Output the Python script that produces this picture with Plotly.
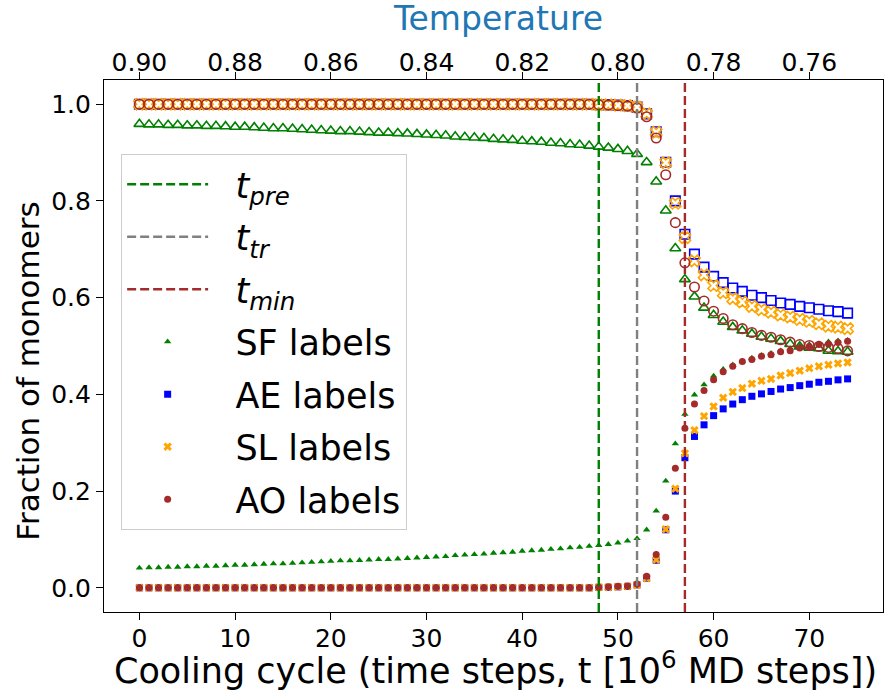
import plotly.graph_objects as go

# ---------------- data ----------------
t = list(range(75))

sf_filled = [0.041, 0.042, 0.042, 0.043, 0.043, 0.044, 0.044, 0.045, 0.045, 0.046,
             0.047, 0.047, 0.048, 0.049, 0.050, 0.050, 0.051, 0.052, 0.053, 0.054,
             0.055, 0.056, 0.056, 0.057, 0.058, 0.059, 0.059, 0.060, 0.061, 0.062,
             0.063, 0.064, 0.065, 0.067, 0.068, 0.069, 0.070, 0.072, 0.073, 0.074,
             0.076, 0.077, 0.078, 0.080, 0.081, 0.083, 0.084, 0.086, 0.088, 0.090,
             0.093, 0.097, 0.102, 0.120, 0.159, 0.221, 0.298, 0.359, 0.399, 0.420,
             0.438, 0.452, 0.461, 0.468, 0.475, 0.481, 0.485, 0.490, 0.495, 0.500,
             0.503, 0.505, 0.509, 0.511, 0.512]
sf_hollow = [0.959, 0.958, 0.958, 0.957, 0.957, 0.956, 0.956, 0.955, 0.955, 0.954,
             0.953, 0.953, 0.952, 0.951, 0.950, 0.950, 0.949, 0.948, 0.947, 0.946,
             0.945, 0.944, 0.944, 0.943, 0.942, 0.941, 0.941, 0.940, 0.939, 0.938,
             0.937, 0.936, 0.935, 0.933, 0.932, 0.931, 0.930, 0.928, 0.927, 0.926,
             0.924, 0.923, 0.922, 0.920, 0.919, 0.917, 0.916, 0.914, 0.912, 0.910,
             0.907, 0.903, 0.897, 0.880, 0.840, 0.780, 0.702, 0.638, 0.602, 0.579,
             0.564, 0.550, 0.539, 0.532, 0.525, 0.519, 0.515, 0.510, 0.504, 0.499,
             0.496, 0.495, 0.490, 0.489, 0.488]

ae_filled = [0.0, 0.0, 0.0, 0.0, 0.0, 0.0, 0.0, 0.0, 0.0, 0.0,
             0.0, 0.0, 0.0, 0.0, 0.0, 0.0, 0.0, 0.0, 0.0, 0.0,
             0.0, 0.0, 0.0, 0.0, 0.0, 0.0, 0.0, 0.0, 0.0, 0.0,
             0.0, 0.0, 0.0, 0.0, 0.0, 0.0, 0.0, 0.0, 0.0, 0.0,
             0.0, 0.0, 0.0, 0.0, 0.0, 0.0, 0.0, 0.0, 0.001, 0.001,
             0.002, 0.003, 0.006, 0.020, 0.057, 0.120, 0.200, 0.269, 0.313, 0.337,
             0.356, 0.370, 0.380, 0.389, 0.396, 0.401, 0.406, 0.411, 0.414, 0.418,
             0.421, 0.425, 0.427, 0.430, 0.432]
ae_hollow = [1.0, 1.0, 1.0, 1.0, 1.0, 1.0, 1.0, 1.0, 1.0, 1.0,
             1.0, 1.0, 1.0, 1.0, 1.0, 1.0, 1.0, 1.0, 1.0, 1.0,
             1.0, 1.0, 1.0, 1.0, 1.0, 1.0, 1.0, 1.0, 1.0, 1.0,
             1.0, 1.0, 1.0, 1.0, 1.0, 1.0, 1.0, 1.0, 1.0, 1.0,
             1.0, 1.0, 1.0, 1.0, 1.0, 1.0, 1.0, 1.0, 0.999, 0.999,
             0.998, 0.997, 0.994, 0.980, 0.943, 0.880, 0.800, 0.731, 0.690, 0.663,
             0.644, 0.631, 0.620, 0.613, 0.605, 0.600, 0.594, 0.589, 0.586, 0.582,
             0.579, 0.576, 0.573, 0.571, 0.568]

sl_filled = [0.0, 0.0, 0.0, 0.0, 0.0, 0.0, 0.0, 0.0, 0.0, 0.0,
             0.0, 0.0, 0.0, 0.0, 0.0, 0.0, 0.0, 0.0, 0.0, 0.0,
             0.0, 0.0, 0.0, 0.0, 0.0, 0.0, 0.0, 0.0, 0.0, 0.0,
             0.0, 0.0, 0.0, 0.0, 0.0, 0.0, 0.0, 0.0, 0.0, 0.0,
             0.0, 0.0, 0.0, 0.0, 0.0, 0.0, 0.0, 0.0, 0.001, 0.001,
             0.002, 0.003, 0.006, 0.020, 0.058, 0.121, 0.205, 0.278, 0.326, 0.355,
             0.375, 0.393, 0.405, 0.413, 0.422, 0.428, 0.432, 0.439, 0.444, 0.449,
             0.454, 0.458, 0.461, 0.464, 0.466]
sl_hollow = [1.0, 1.0, 1.0, 1.0, 1.0, 1.0, 1.0, 1.0, 1.0, 1.0,
             1.0, 1.0, 1.0, 1.0, 1.0, 1.0, 1.0, 1.0, 1.0, 1.0,
             1.0, 1.0, 1.0, 1.0, 1.0, 1.0, 1.0, 1.0, 1.0, 1.0,
             1.0, 1.0, 1.0, 1.0, 1.0, 1.0, 1.0, 1.0, 1.0, 1.0,
             1.0, 1.0, 1.0, 1.0, 1.0, 1.0, 1.0, 1.0, 0.999, 0.999,
             0.998, 0.997, 0.994, 0.980, 0.942, 0.879, 0.795, 0.724, 0.676, 0.647,
             0.625, 0.610, 0.598, 0.591, 0.582, 0.575, 0.570, 0.564, 0.560, 0.555,
             0.551, 0.546, 0.541, 0.539, 0.536]

ao_filled = [0.0, 0.0, 0.0, 0.0, 0.0, 0.0, 0.0, 0.0, 0.0, 0.0,
             0.0, 0.0, 0.0, 0.0, 0.0, 0.0, 0.0, 0.0, 0.0, 0.0,
             0.0, 0.0, 0.0, 0.0, 0.0, 0.0, 0.0, 0.0, 0.0, 0.0,
             0.0, 0.0, 0.0, 0.0, 0.0, 0.0, 0.0, 0.0, 0.0, 0.0,
             0.0, 0.0, 0.0, 0.0, 0.0, 0.0, 0.0, 0.0, 0.001, 0.002,
             0.003, 0.004, 0.008, 0.024, 0.069, 0.146, 0.247, 0.330, 0.380, 0.408,
             0.430, 0.447, 0.458, 0.468, 0.472, 0.479, 0.482, 0.488, 0.490, 0.496,
             0.499, 0.503, 0.504, 0.507, 0.510]
ao_hollow = [1.0, 1.0, 1.0, 1.0, 1.0, 1.0, 1.0, 1.0, 1.0, 1.0,
             1.0, 1.0, 1.0, 1.0, 1.0, 1.0, 1.0, 1.0, 1.0, 1.0,
             1.0, 1.0, 1.0, 1.0, 1.0, 1.0, 1.0, 1.0, 1.0, 1.0,
             1.0, 1.0, 1.0, 1.0, 1.0, 1.0, 1.0, 1.0, 1.0, 1.0,
             1.0, 1.0, 1.0, 1.0, 1.0, 1.0, 1.0, 1.0, 0.999, 0.998,
             0.997, 0.996, 0.992, 0.974, 0.930, 0.854, 0.755, 0.672, 0.622, 0.593,
             0.572, 0.557, 0.544, 0.536, 0.528, 0.522, 0.518, 0.513, 0.508, 0.503,
             0.501, 0.499, 0.497, 0.495, 0.490]

t_pre, t_tr, t_min = 48, 52, 57

x_ticks = [0, 10, 20, 30, 40, 50, 60, 70]
temp_ticks = ["0.90", "0.88", "0.86", "0.84", "0.82", "0.80", "0.78", "0.76"]
y_ticks = [0.0, 0.2, 0.4, 0.6, 0.8, 1.0]

# ---------------- figure ----------------
FONT = "DejaVu Sans"
PAD = "&nbsp;&nbsp;"
fig = go.Figure()

vlines = [(t_pre, "green", "<i>t</i><sub><i>pre</i></sub>"),
          (t_tr, "gray", "<i>t</i><sub><i>tr</i></sub>"),
          (t_min, "brown", "<i>t</i><sub><i>min</i></sub>")]
for i, (xv, col, name) in enumerate(vlines):
    fig.add_shape(type="line", x0=xv, x1=xv, y0=0, y1=1, xref="x", yref="paper",
                  line=dict(color=col, width=2.4, dash="9px,4px"), layer="above")
    fig.add_trace(go.Scatter(x=[None], y=[None], mode="lines", name=PAD + name,
                             legendgroup=f"g{i}",
                             line=dict(color=col, width=2.4, dash="9px,4px")))

series = [
    ("SF labels", sf_filled, sf_hollow, "green", "triangle-up", 6.5, 9.5),
    ("AE labels", ae_filled, ae_hollow, "blue", "square", 7, 9.5),
    ("SL labels", sl_filled, sl_hollow, "orange", "x", 7.5, 10),
    ("AO labels", ao_filled, ao_hollow, "brown", "circle", 7, 9.5),
]
for j, (name, yf, yh, col, sym, sf, sh) in enumerate(series):
    fig.add_trace(go.Scatter(x=t, y=yf, mode="markers", name=PAD + name,
                             legendgroup=f"s{j}",
                             marker=dict(color=col, symbol=sym, size=sf, line=dict(width=0))))
    fig.add_trace(go.Scatter(x=t, y=yh, mode="markers", name=name + " (rest)",
                             showlegend=False,
                             marker=dict(color=col, symbol=sym + "-open", size=sh,
                                         line=dict(width=1.6, color=col))))

fig.add_trace(go.Scatter(x=[x_ticks[0], x_ticks[-1]], y=[None, None], xaxis="x2",
                         mode="markers", showlegend=False, hoverinfo="skip"))

xr = [-3.7, 77.7]
axis_common = dict(ticks="outside", ticklen=7, tickwidth=1.2, tickcolor="black",
                   showline=True, linecolor="black", linewidth=1.2, showgrid=False,
                   zeroline=False, tickfont=dict(size=25), automargin=False)
fig.update_layout(
    width=885, height=693,
    margin=dict(l=104, r=2, t=80, b=81),
    paper_bgcolor="white", plot_bgcolor="white",
    font=dict(family=FONT, size=25, color="black"),
    showlegend=True,
    legend=dict(x=0.022, y=0.861, xanchor="left", yanchor="top",
                bgcolor="rgba(255,255,255,0.8)", bordercolor="#cccccc", borderwidth=1,
                font=dict(size=35, family=FONT), itemwidth=81,
                tracegroupgap=4, traceorder="grouped"),
    xaxis=dict(range=xr, tickvals=x_ticks, ticklabelstandoff=-3, **axis_common),
    xaxis2=dict(range=xr, overlaying="x", side="top", tickvals=x_ticks, ticktext=temp_ticks,
                ticklabelstandoff=-9, **axis_common),
    yaxis=dict(range=[-0.05, 1.05], tickvals=y_ticks, tickformat=".1f", mirror=True,
               **axis_common),
    annotations=[
        dict(text="Cooling cycle (time steps, t [10<sup>6</sup> MD steps])",
             xref="paper", yref="paper", x=0.502, y=-0.106, xanchor="center",
             yanchor="middle", showarrow=False, font=dict(size=35, family=FONT)),
        dict(text="Fraction of monomers", xref="paper", yref="paper",
             x=-0.098, y=0.453, xanchor="center", yanchor="middle", textangle=-90,
             showarrow=False, font=dict(size=31, family=FONT)),
        dict(text="Temperature", xref="paper", yref="paper", x=0.506, y=1.1165,
             xanchor="center", yanchor="middle", showarrow=False,
             font=dict(size=33, family=FONT, color="#1f77b4")),
    ],
)

fig.write_html("out.html")
